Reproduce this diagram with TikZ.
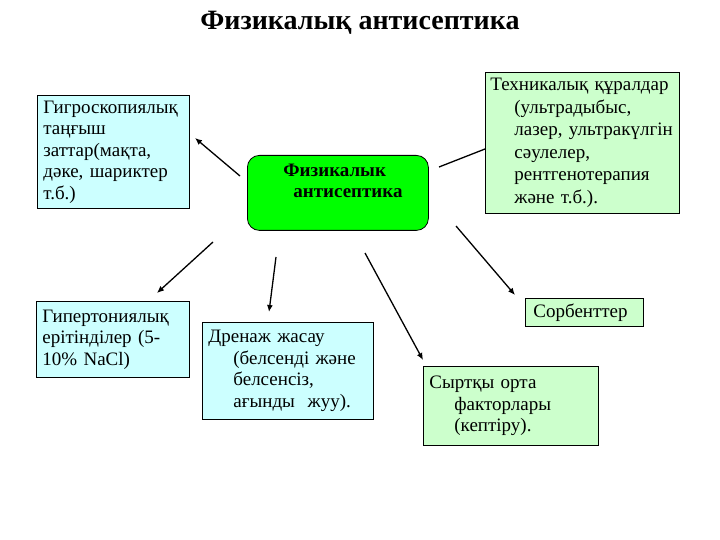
\documentclass[tikz,border=0pt]{standalone}
\usepackage{fontspec}
\setmainfont{Liberation Serif}
\usetikzlibrary{arrows.meta}
\definecolor{cyanbox}{RGB}{204,255,255}
\definecolor{greenbox}{RGB}{204,255,204}
\definecolor{brightgreen}{RGB}{0,255,0}
\begin{document}
\begin{tikzpicture}[x=1pt,y=-1pt,
  box/.style={draw=black, line width=0.8pt, anchor=north west, align=left,
    inner xsep=6pt, inner ysep=1.5pt, font=\fontsize{19}{21.5}\selectfont},
  arr/.style={line width=1.3pt, -{Latex[length=7pt,width=6pt]}},
  conn/.style={line width=1.3pt}]
\path[use as bounding box, fill=white] (0,0) rectangle (720,540);
\node[font=\bfseries\fontsize{28}{30}\selectfont] (title) at (360,23) {Физикалық антисептика};
\node[box, fill=cyanbox, minimum width=152pt, minimum height=113pt, text width=140pt] (hygro) at (37,95)
  {Гигроскопиялық\\таңғыш\\заттар(мақта,\\дәке, шариктер\\т.б.)};
\node[box, fill=brightgreen, rounded corners=12pt, minimum width=181pt, minimum height=75pt,
  text width=169pt, text depth=46pt, font=\bfseries\fontsize{19}{21}\selectfont, inner xsep=6pt] (center) at (247,155)
  {\hspace*{30pt}Физикалык\\\hspace*{40pt}антисептика};
\node[box, fill=greenbox, minimum width=194pt, minimum height=141pt, text width=184pt, inner xsep=5pt,
  font=\fontsize{19}{22.5}\selectfont] (tech) at (485,72)
  {Техникалық құралдар\\\hspace*{24pt}(ультрадыбыс,\\\hspace*{24pt}лазер, ультракүлгін\\\hspace*{24pt}сәулелер,\\\hspace*{24pt}рентгенотерапия\\\hspace*{24pt}және т.б.).};
\node[box, fill=cyanbox, minimum width=153pt, minimum height=76pt, text width=141pt] (hyper) at (36,301)
  {Гипертониялық\\ерітінділер (5-\\10\% NaCl)};
\node[box, fill=cyanbox, minimum width=171pt, minimum height=97pt, text width=159pt] (drain) at (202,322)
  {Дренаж жасау\\\hspace*{25pt}(белсенді және\\\hspace*{25pt}белсенсіз,\\\hspace*{25pt}ағынды\ \ жуу).};
\node[box, fill=greenbox, minimum width=118pt, minimum height=28pt, text width=106pt] (sorb) at (525,298)
  {\hspace*{2pt}Сорбенттер};
\node[box, fill=greenbox, minimum width=175pt, minimum height=79pt, text width=163pt] (ext) at (423,366)
  {Сыртқы орта\\\hspace*{25pt}факторлары\\\hspace*{25pt}(кептіру).};
\coordinate (a1s) at (240,176); \coordinate (a1e) at (195,138);
\coordinate (a2s) at (439,167); \coordinate (a2e) at (485,149);
\coordinate (a3s) at (213,242); \coordinate (a3e) at (157,293);
\coordinate (a4s) at (276,257); \coordinate (a4e) at (269,312);
\coordinate (a5s) at (365,253); \coordinate (a5e) at (423,360);
\coordinate (a6s) at (456,226); \coordinate (a6e) at (515,295);
\draw[arr] (a1s) -- (a1e);
\draw[conn] (a2s) -- (a2e);
\draw[arr] (a3s) -- (a3e);
\draw[arr] (a4s) -- (a4e);
\draw[arr] (a5s) -- (a5e);
\draw[arr] (a6s) -- (a6e);
\end{tikzpicture}
\end{document}
